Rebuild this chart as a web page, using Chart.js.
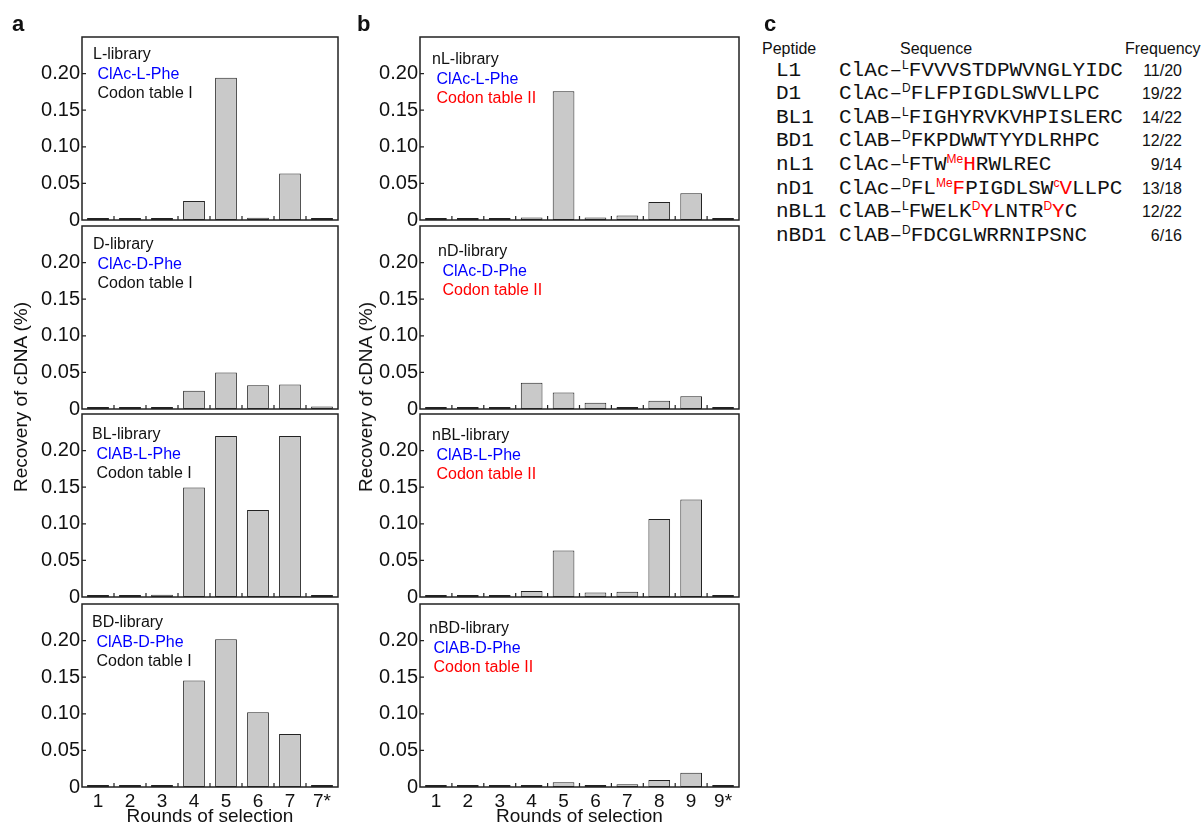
<!DOCTYPE html>
<html>
<head>
<meta charset="utf-8">
<script src="https://cdn.jsdelivr.net/npm/chart.js@4"></script>
<style>
  body { margin: 0; background: #fff; }
  #page { position: relative; width: 1203px; height: 826px; overflow: hidden; font-family: "Liberation Sans", Arial, sans-serif; color: #111; }
  canvas { position: absolute; }
  .txt { position: absolute; white-space: nowrap; }
  .letter { font-weight: bold; font-size: 22px; line-height: 24px; }
  .note { font-size: 16px; line-height: 20px; }
  .ytitle { font-size: 19px; line-height: 22px; transform: translate(-50%, -50%) rotate(-90deg); }
  .head { font-size: 16px; line-height: 20px; }
  .mono { font-family: "Courier New", "Liberation Mono", monospace; font-size: 21px; line-height: 24px; }
  .freq { font-size: 16px; line-height: 20px; text-align: right; width: 60px; }
  .sup { font-family: "Liberation Sans", Arial, sans-serif; font-size: 12px; position: relative; top: -7px; }
  .red { color: #ff0000; }
  .blue { color: #0000ff; }
</style>
</head>
<body>
<div id="page"></div>
<script>
// categories
const roundsA = ['1', '2', '3', '4', '5', '6', '7', '7*'];
const roundsB = ['1', '2', '3', '4', '5', '6', '7', '8', '9', '9*'];

// recovery of cDNA (%) per round
const lLib  = [0.001, 0.001, 0.001, 0.026, 0.1945, 0.003, 0.0636, 0.001];
const dLib  = [0.001, 0.001, 0.001, 0.025, 0.050, 0.0325, 0.0335, 0.0035];
const blLib = [0.001, 0.001, 0.0032, 0.1495, 0.220, 0.119, 0.220, 0.001];
const bdLib = [0.0005, 0.0005, 0.0005, 0.1455, 0.202, 0.102, 0.0725, 0.0005];
const nlLib  = [0.0005, 0.0005, 0.0005, 0.0035, 0.176, 0.0035, 0.006, 0.0245, 0.0365, 0.002];
const ndLib  = [0.0005, 0.0005, 0.0014, 0.036, 0.0224, 0.0087, 0.0027, 0.0114, 0.0174, 0.0014];
const nblLib = [0.0005, 0.0005, 0.0005, 0.0082, 0.0635, 0.0063, 0.0073, 0.1066, 0.1333, 0.0018];
const nbdLib = [0.0005, 0.0005, 0.0005, 0.0018, 0.0064, 0.001, 0.0036, 0.0095, 0.0195, 0.0018];

// y ticks
const yTicks = [0, 0.05, 0.10, 0.15, 0.20];
const yMax = 0.25;

// panel labels
const libNames = ['L-library', 'D-library', 'BL-library', 'BD-library', 'nL-library', 'nD-library', 'nBL-library', 'nBD-library'];
const initiators = ['ClAc-L-Phe', 'ClAc-D-Phe', 'ClAB-L-Phe', 'ClAB-D-Phe', 'ClAc-L-Phe', 'ClAc-D-Phe', 'ClAB-L-Phe', 'ClAB-D-Phe'];
const codonTables = ['Codon table I', 'Codon table I', 'Codon table I', 'Codon table I', 'Codon table II', 'Codon table II', 'Codon table II', 'Codon table II'];

// panel c table
const peptides = ['L1', 'D1', 'BL1', 'BD1', 'nL1', 'nD1', 'nBL1', 'nBD1'];
const sequences = [
  'ClAc–^L^FVVVSTDPWVNGLYIDC',
  'ClAc–^D^FLFPIGDLSWVLLPC',
  'ClAB–^L^FIGHYRVKVHPISLERC',
  'ClAB–^D^FKPDWWTYYDLRHPC',
  'ClAc–^L^FTW{Me}[H]RWLREC',
  'ClAc–^D^FL{Me}[F]PIGDLSW{c}[V]LLPC',
  'ClAB–^L^FWELK{D}[Y]LNTR{D}[Y]C',
  'ClAB–^D^FDCGLWRRNIPSNC'
];
const frequencies = ['11/20', '19/22', '14/22', '12/22', '9/14', '13/18', '12/22', '6/16'];

const page = document.getElementById('page');
function addText(cls, html, css) {
  const d = document.createElement('div');
  d.className = 'txt ' + cls;
  d.innerHTML = html;
  Object.assign(d.style, css);
  page.appendChild(d);
  return d;
}

Chart.defaults.font.family = '"Liberation Sans", Arial, sans-serif';
Chart.defaults.font.size = 19;
Chart.defaults.color = '#111';

// box around the plot + inward tick marks
const framePlugin = {
  id: 'frame',
  afterDatasetsDraw(chart) {
    const { ctx, chartArea: a, scales: { x, y } } = chart;
    ctx.save();
    ctx.strokeStyle = '#222';
    ctx.lineWidth = 1.2;
    ctx.beginPath();
    yTicks.forEach(v => {
      const py = y.getPixelForValue(v);
      if (py >= a.bottom - 1) return;
      ctx.moveTo(a.left, py);
      ctx.lineTo(a.left + 4, py);
    });
    for (let i = 1; i < x.ticks.length; i++) {
      const px = (x.getPixelForTick(i - 1) + x.getPixelForTick(i)) / 2;
      ctx.moveTo(px, a.bottom);
      ctx.lineTo(px, a.bottom - 4);
    }
    ctx.stroke();
    ctx.lineWidth = 1.5;
    ctx.strokeRect(a.left, a.top, a.right - a.left, a.bottom - a.top);
    ctx.restore();
  }
};

const rowTops = [37, 226, 414, 604];
const plotH = 183;
const cols = [
  { plotLeft: 82, plotW: 256, yW: 52, labels: roundsA, series: [lLib, dLib, blLib, bdLib] },
  { plotLeft: 420, plotW: 319, yW: 45, labels: roundsB, series: [nlLib, ndLib, nblLib, nbdLib] }
];
// first-line position of the in-plot notes
const notePos = [[93, 54], [93, 244], [92, 434], [92, 622], [432, 59], [438, 251], [432, 435], [429, 628]];

cols.forEach((col, c) => {
  col.series.forEach((vals, r) => {
    const bottom = r === 3;
    const padTop = 14, padRight = 6;
    const xH = bottom ? 39 : 14;
    const canvas = document.createElement('canvas');
    const w = col.yW + col.plotW + padRight;
    const h = padTop + plotH + xH;
    canvas.width = w; canvas.height = h;
    canvas.style.left = (col.plotLeft - col.yW) + 'px';
    canvas.style.top = (rowTops[r] - padTop) + 'px';
    canvas.style.width = w + 'px'; canvas.style.height = h + 'px';
    page.appendChild(canvas);

    new Chart(canvas, {
      type: 'bar',
      data: {
        labels: col.labels,
        datasets: [{
          data: vals,
          backgroundColor: '#c9c9c9',
          borderColor: '#222',
          borderWidth: 1,
          borderSkipped: false,
          minBarLength: 2,
          barPercentage: 0.68,
          categoryPercentage: 1
        }]
      },
      options: {
        responsive: false,
        animation: false,
        layout: { padding: { top: padTop, right: padRight, left: 0, bottom: bottom ? 0 : xH } },
        plugins: { legend: { display: false }, tooltip: { enabled: false } },
        scales: {
          x: {
            grid: { display: false, drawTicks: false },
            border: { display: false },
            ticks: { display: bottom, padding: 3, maxRotation: 0, autoSkip: false },
            title: {
              display: bottom,
              text: 'Rounds of selection',
              font: { size: 19, lineHeight: 1 },
              padding: 0
            },
            afterFit(scale) { scale.height = bottom ? xH : 0; }
          },
          y: {
            min: 0,
            max: yMax,
            grid: { display: false, drawTicks: false },
            border: { display: false },
            afterBuildTicks(scale) { scale.ticks = yTicks.map(v => ({ value: v })); },
            ticks: {
              padding: 2,
              font: { size: 20 },
              callback: v => (v === 0 ? '0' : v.toFixed(2))
            },
            afterFit(scale) { scale.width = col.yW; }
          }
        }
      },
      plugins: [framePlugin]
    });

    const k = c * 4 + r;
    const [nx, ny] = notePos[k];
    addText('note', libNames[k], { left: nx + 'px', top: (ny - 10) + 'px' });
    addText('note blue', initiators[k], { left: (nx + 4.5) + 'px', top: (ny + 19.5 - 10) + 'px' });
    addText('note' + (c === 1 ? ' red' : ''), codonTables[k], { left: (nx + 4.5) + 'px', top: (ny + 39 - 10) + 'px' });
  });
});

// axis titles spanning the stacked panels
addText('ytitle', 'Recovery of cDNA (%)', { left: '21px', top: '397px' });
addText('ytitle', 'Recovery of cDNA (%)', { left: '366px', top: '397px' });

// panel letters
addText('letter', 'a', { left: '12px', top: '12px' });
addText('letter', 'b', { left: '357px', top: '12px' });
addText('letter', 'c', { left: '764px', top: '12px' });

// panel c
addText('head', 'Peptide', { left: '762px', top: '39px' });
addText('head', 'Sequence', { left: '900px', top: '39px' });
addText('head', 'Frequency', { left: '1125px', top: '39px' });
peptides.forEach((p, i) => {
  const y = 70.5 + i * 23.6;
  addText('mono', p, { left: '776px', top: (y - 12) + 'px' });
  const html = sequences[i]
    .replace(/\^(.*?)\^/g, '<span class="sup">$1</span>')
    .replace(/\{(.*?)\}/g, '<span class="sup red">$1</span>')
    .replace(/\[(.*?)\]/g, '<span class="red">$1</span>');
  addText('mono', html, { left: '839px', top: (y - 12) + 'px' });
  addText('freq', frequencies[i], { left: '1122px', top: (y - 10) + 'px' });
});
</script>
</body>
</html>
